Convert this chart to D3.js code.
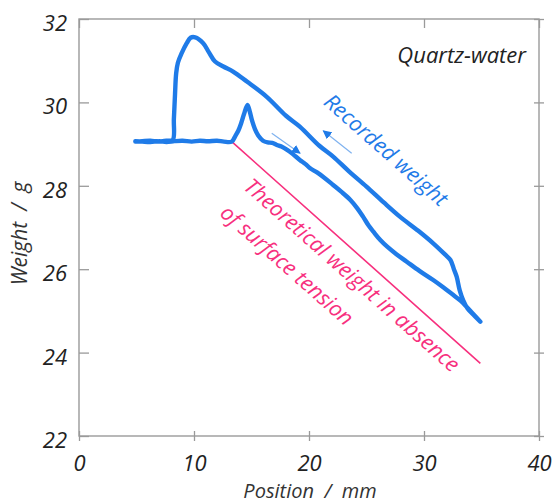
<!DOCTYPE html>
<html>
<head>
<meta charset="utf-8">
<script src="https://cdn.jsdelivr.net/npm/d3@7"></script>
<style>
  body { margin: 0; background: #fff; }
  text { font-family: "Open Sans", Lato, sans-serif; font-style: italic; }
</style>
</head>
<body>
<svg id="chart"></svg>
<script>
// advancing run (flat, then lower branch)
var posForward = [4.9, 5.5, 6.2, 7.0, 7.6, 8.3, 9.0, 9.8, 10.5, 11.2, 12.0, 12.6, 13.28, 13.6, 13.85, 14.1, 14.35, 14.65, 14.85, 15.05, 15.3, 15.6, 16.0, 16.4, 16.8, 17.2, 17.6, 18.1, 18.6, 19.2, 19.7, 20.1, 20.7, 21.3, 22.1, 22.8, 23.6, 24.2, 24.7, 25.2, 25.6, 26.2, 26.8, 27.6, 28.5, 29.6, 30.8, 31.7, 32.6, 33.2, 33.7, 34.3, 34.9];
var weightForward = [29.07, 29.06, 29.05, 29.07, 29.05, 29.07, 29.08, 29.06, 29.08, 29.07, 29.08, 29.06, 29.06, 29.2, 29.32, 29.5, 29.72, 29.94, 29.78, 29.56, 29.36, 29.2, 29.08, 29.04, 29.03, 28.98, 28.94, 28.86, 28.76, 28.62, 28.52, 28.42, 28.32, 28.2, 28.02, 27.86, 27.66, 27.46, 27.26, 27.04, 26.9, 26.7, 26.54, 26.36, 26.18, 25.96, 25.74, 25.56, 25.37, 25.24, 25.1, 24.92, 24.74];

// receding run (upper branch back to start)
var posBackward = [34.9, 34.4, 33.8, 33.4, 33.1, 32.84, 32.6, 32.3, 31.8, 30.8, 29.5, 27.9, 26.5, 25.0, 23.5, 22.1, 20.9, 19.2, 18.0, 16.3, 14.6, 13.4, 12.55, 11.83, 11.3, 10.8, 10.1, 9.7, 9.37, 8.93, 8.6, 8.45, 8.35, 8.25, 8.15, 7.6, 6.9, 6.2, 5.5, 4.9];
var weightBackward = [24.74, 24.88, 25.05, 25.26, 25.5, 25.82, 26.0, 26.22, 26.36, 26.62, 26.92, 27.26, 27.6, 27.98, 28.34, 28.7, 28.96, 29.42, 29.68, 30.14, 30.5, 30.74, 30.86, 30.98, 31.2, 31.42, 31.56, 31.55, 31.42, 31.18, 30.95, 30.7, 30.2, 29.6, 29.1, 29.08, 29.06, 29.08, 29.07, 29.06];

// theoretical weight without surface tension
var theoryPos = [4.9, 13.28, 34.9];
var theoryWeight = [29.06, 29.06, 23.74];

var xTicks = [0, 10, 20, 30, 40];
var yTicks = [22, 24, 26, 28, 30, 32];

var margin = { top: 19, right: 18, bottom: 67, left: 79 },
    width = 557 - margin.left - margin.right,
    height = 503 - margin.top - margin.bottom;

var svg = d3.select("#chart")
    .attr("width", 557)
    .attr("height", 503)
    .append("g")
    .attr("transform", "translate(" + margin.left + "," + margin.top + ")");

var x = d3.scaleLinear().domain([0, 40]).range([0, width]);
var y = d3.scaleLinear().domain([22, 32]).range([height, 0]);

var frameColor = "#9a9a9a";
var blue = "#1f7be8";
var pink = "#f7307e";

// left axis, ticks pointing in
var yAxis = svg.append("g")
    .call(d3.axisLeft(y).tickValues(yTicks).tickSize(-10).tickPadding(12).tickFormat(d3.format("d")));
yAxis.select(".domain").remove();
yAxis.selectAll("line").attr("stroke", frameColor).attr("stroke-width", 1.3);
yAxis.selectAll("text").attr("font-size", 22).attr("fill", "#222").attr("dy", "0.52em");

// bottom axis, ticks crossing the frame
var xAxis = svg.append("g")
    .attr("transform", "translate(0," + height + ")")
    .call(d3.axisBottom(x).tickValues(xTicks).tickSize(5).tickPadding(14).tickFormat(d3.format("d")));
xAxis.select(".domain").remove();
xAxis.selectAll("line").attr("y1", -5).attr("stroke", frameColor).attr("stroke-width", 1.3);
xAxis.selectAll("text").attr("font-size", 22).attr("fill", "#222");

// top + right: ticks only
var topAxis = svg.append("g")
    .call(d3.axisTop(x).tickValues(xTicks).tickSize(-9).tickFormat(""));
topAxis.select(".domain").remove();
topAxis.selectAll("line").attr("stroke", frameColor).attr("stroke-width", 1.3);

var rightAxis = svg.append("g")
    .attr("transform", "translate(" + width + ",0)")
    .call(d3.axisRight(y).tickValues(yTicks).tickSize(5).tickFormat(""));
rightAxis.select(".domain").remove();
rightAxis.selectAll("line").attr("x1", -5).attr("stroke", frameColor).attr("stroke-width", 1.3);

svg.append("rect")
    .attr("width", width)
    .attr("height", height)
    .attr("fill", "none")
    .attr("stroke", frameColor)
    .attr("stroke-width", 1.4);

// axis titles
svg.append("text")
    .attr("x", width / 2 + 1)
    .attr("y", height + 62)
    .attr("text-anchor", "middle")
    .attr("font-size", 20)
    .attr("fill", "#333")
    .text("Position \u00a0/\u00a0 mm");

svg.append("text")
    .attr("transform", "translate(-52," + (height / 2 + 6) + ") rotate(-90)")
    .attr("text-anchor", "middle")
    .attr("font-size", 21)
    .attr("fill", "#333")
    .text("Weight \u00a0/\u00a0 g");

var theory = d3.zip(theoryPos, theoryWeight);

svg.append("path")
    .datum(theory)
    .attr("d", d3.line().x(function(d) { return x(d[0]); }).y(function(d) { return y(d[1]); }))
    .attr("fill", "none")
    .attr("stroke", pink)
    .attr("stroke-width", 1.6);

var recorded = d3.zip(posForward, weightForward).concat(d3.zip(posBackward, weightBackward));

svg.append("path")
    .datum(recorded)
    .attr("d", d3.line().x(function(d) { return x(d[0]); }).y(function(d) { return y(d[1]); }).curve(d3.curveCatmullRom))
    .attr("fill", "none")
    .attr("stroke", blue)
    .attr("stroke-width", 4.4)
    .attr("stroke-linejoin", "round")
    .attr("stroke-linecap", "round");

// direction arrows
svg.append("defs").append("marker")
    .attr("id", "head")
    .attr("viewBox", "0 0 10 10")
    .attr("refX", 9).attr("refY", 5)
    .attr("markerWidth", 9).attr("markerHeight", 9)
    .attr("markerUnits", "userSpaceOnUse")
    .attr("orient", "auto")
    .append("path")
    .attr("d", "M0,0 L10,5 L0,10 z")
    .attr("fill", blue);

var arrows = [
    [[16.76, 29.26], [19.22, 28.78]],
    [[23.71, 28.78], [21.24, 29.32]]
];
arrows.forEach(function(a) {
    svg.append("line")
        .attr("x1", x(a[0][0])).attr("y1", y(a[0][1]))
        .attr("x2", x(a[1][0])).attr("y2", y(a[1][1]))
        .attr("stroke", "#7fb2ef")
        .attr("stroke-width", 1.2)
        .attr("marker-end", "url(#head)");
});

// annotations
svg.append("text")
    .attr("x", x(38.87))
    .attr("y", y(30.94))
    .attr("text-anchor", "end")
    .attr("font-size", 22)
    .attr("fill", "#222")
    .text("Quartz-water");

function rotatedLabel(px, py, angle, str, color) {
    svg.append("text")
        .attr("transform", "translate(" + x(px) + "," + y(py) + ") rotate(" + angle + ")")
        .attr("text-anchor", "middle")
        .attr("dy", "0.35em")
        .attr("font-size", 21.5)
        .attr("fill", color)
        .text(str);
}

rotatedLabel(26.7, 28.86, 41.5, "Recorded weight", blue);
rotatedLabel(23.74, 25.86, 41.5, "Theoretical weight in absence", pink);
rotatedLabel(18.09, 26.1, 41.5, "of surface tension", pink);
</script>
</body>
</html>
